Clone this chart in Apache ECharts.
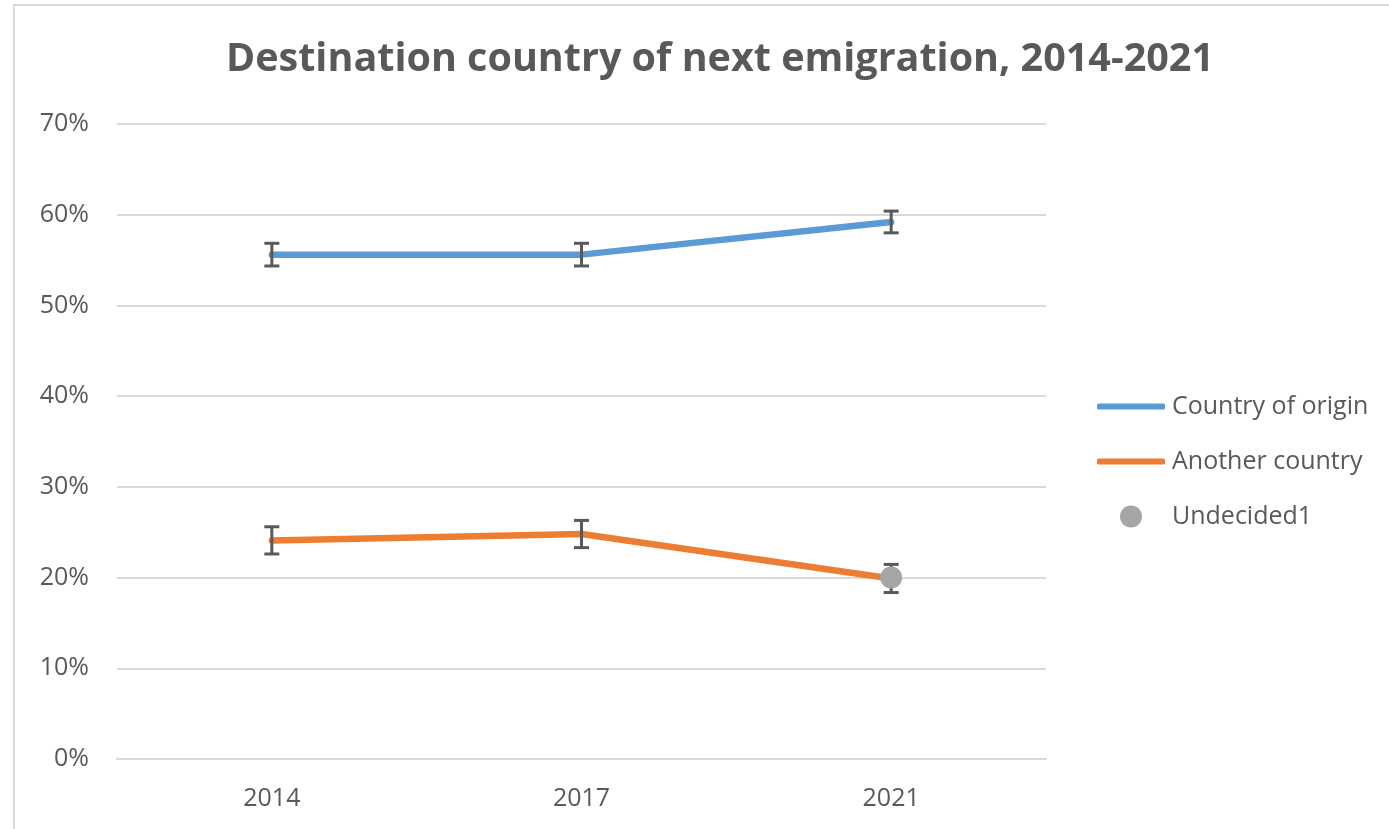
<!DOCTYPE html>
<html>
<head>
<meta charset="utf-8">
<script src="https://cdn.jsdelivr.net/npm/echarts@6/dist/echarts.min.js"></script>
<style>
html,body{margin:0;padding:0;background:#fff;}
#chart{width:1389px;height:829px;}
</style>
</head>
<body>
<div id="chart"></div>
<script>
const categories = ['2014', '2017', '2021'];
const originValues = [55.6, 55.6, 59.2];
const originErrors = [1.25, 1.25, 1.2];
const anotherValues = [24.1, 24.8, 19.9];
const anotherErrors = [1.5, 1.5, 1.55];
const undecidedValues = [null, null, 20.0];
const yTicks = [0, 10, 20, 30, 40, 50, 60, 70];

const FONT = '"Open Sans", sans-serif';
const TXT = '#595959';

function errData(vals, errs) {
  return vals.map((v, i) => [i, v - errs[i], v + errs[i]]);
}

function renderErr(params, api) {
  const x = api.value(0);
  const lo = api.coord([x, api.value(1)]);
  const hi = api.coord([x, api.value(2)]);
  const w = 7.5;
  const style = { stroke: '#595959', lineWidth: 3 };
  return {
    type: 'group',
    children: [
      { type: 'line', shape: { x1: lo[0], y1: lo[1], x2: hi[0], y2: hi[1] }, style },
      { type: 'line', shape: { x1: lo[0] - w, y1: lo[1], x2: lo[0] + w, y2: lo[1] }, style },
      { type: 'line', shape: { x1: hi[0] - w, y1: hi[1], x2: hi[0] + w, y2: hi[1] }, style }
    ]
  };
}

const chart = echarts.init(document.getElementById('chart'), null, { renderer: 'canvas' });
chart.setOption({
  animation: false,
  backgroundColor: '#fff',
  title: {
    text: 'Destination country of next emigration, 2014-2021',
    left: 715, top: 35, textAlign: 'center',
    textStyle: { fontFamily: FONT, fontSize: 39.5, fontWeight: 'bold', color: TXT }
  },
  graphic: [{
    type: 'rect', shape: { x: 14, y: 5, width: 1600, height: 1000 },
    style: { fill: null, stroke: '#D9D9D9', lineWidth: 2 }, silent: true
  }],
  legend: [{
    data: ['Country of origin', 'Another country'],
    orient: 'vertical', left: 1092, top: 389, itemGap: 30,
    itemWidth: 68, itemHeight: 6, icon: 'roundRect',
    textStyle: { fontFamily: FONT, fontSize: 25, color: TXT, padding: [0, 0, 0, 2] }
  }, {
    data: ['Undecided1'],
    orient: 'vertical', left: 1115, top: 499,
    itemWidth: 22, itemHeight: 22, icon: 'circle',
    textStyle: { fontFamily: FONT, fontSize: 25, color: TXT, padding: [0, 0, 0, 25] }
  }],
  grid: { left: 117, right: 343, top: 124, bottom: 70 },
  xAxis: {
    type: 'category', data: categories, boundaryGap: true,
    axisLine: { show: true, lineStyle: { color: '#D9D9D9', width: 2 } },
    axisTick: { show: false },
    axisLabel: { fontFamily: FONT, fontSize: 25, color: TXT, margin: 27 }
  },
  yAxis: {
    type: 'value', min: 0, max: 70, interval: 10,
    axisLine: { show: false }, axisTick: { show: false },
    splitLine: { lineStyle: { color: '#D9D9D9', width: 2 } },
    axisLabel: {
      fontFamily: FONT, fontSize: 25, color: TXT, margin: 28,
      formatter: v => yTicks.includes(v) ? v + '%' : ''
    }
  },
  series: [{
    name: 'Country of origin', type: 'line', data: originValues,
    symbol: 'none', lineStyle: { color: '#5B9BD5', width: 6.5, cap: 'round', join: 'round' },
    itemStyle: { color: '#5B9BD5' }, z: 3
  }, {
    name: 'Another country', type: 'line', data: anotherValues,
    symbol: 'none', lineStyle: { color: '#ED7D31', width: 6.5, cap: 'round', join: 'round' },
    itemStyle: { color: '#ED7D31' }, z: 3
  }, {
    name: 'Undecided1', type: 'scatter', data: undecidedValues,
    symbol: 'circle', symbolSize: 22, itemStyle: { color: '#A5A5A5', opacity: 1 }, z: 6
  }, {
    type: 'custom', name: 'errOrigin', data: errData(originValues, originErrors),
    renderItem: renderErr, z: 4, silent: true
  }, {
    type: 'custom', name: 'errAnother', data: errData(anotherValues, anotherErrors),
    renderItem: renderErr, z: 4, silent: true
  }]
});
</script>
</body>
</html>
